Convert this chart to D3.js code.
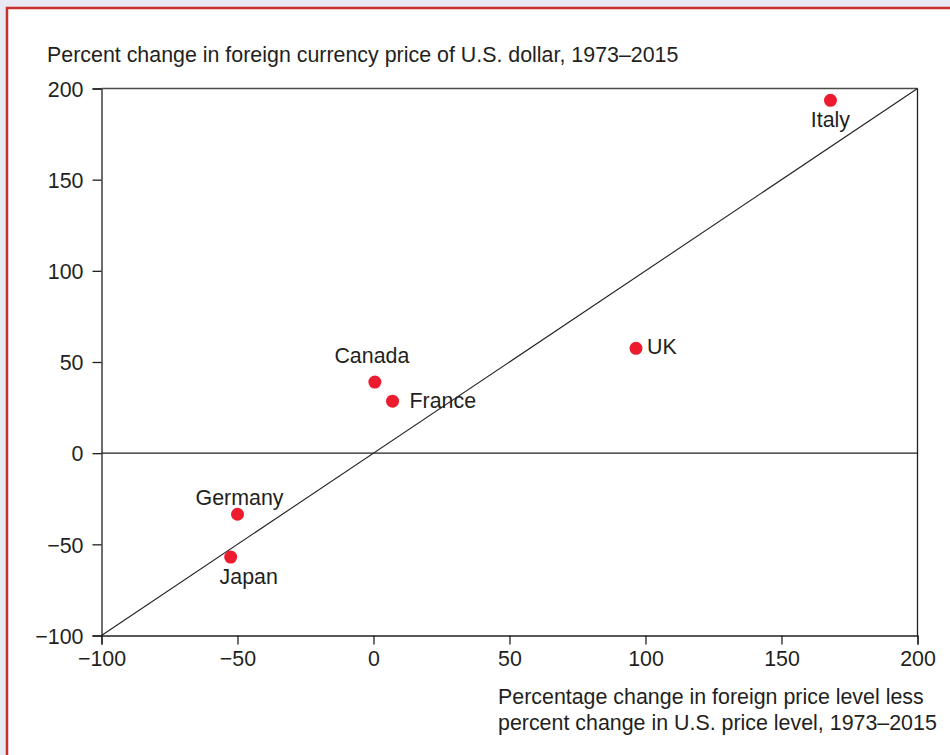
<!DOCTYPE html>
<html>
<head>
<meta charset="utf-8">
<script src="https://cdn.jsdelivr.net/npm/d3@7"></script>
<style>
  html, body { margin: 0; padding: 0; background: #e9e9f3; }
  svg { display: block; }
  text { font-family: "Liberation Sans", Arial, Helvetica, sans-serif; fill: #231f20; }
</style>
</head>
<body>
<script>
// Countries and their values (1973–2015)
const countries = ["Italy", "UK", "Canada", "France", "Germany", "Japan"];
const priceLevelDiff = [168, 96.5, 0.5, 7, -50, -52.5];   // x: foreign price level less U.S. price level, %
const currencyChange = [193.5, 57.5, 39, 28.5, -33.5, -57]; // y: foreign currency price of U.S. dollar, %
// Label placement relative to each dot
const labelAnchor = ["middle", "start", "middle", "start", "middle", "middle"];
const labelDx = [0, 11, -3, 17, 2, 18];
const labelDy = [27, 6, -19, 7, -9, 27];

const xTicks = [-100, -50, 0, 50, 100, 150, 200];
const yTicks = [-100, -50, 0, 50, 100, 150, 200];
const yTitle = "Percent change in foreign currency price of U.S. dollar, 1973–2015";
const xTitle = ["Percentage change in foreign price level less", "percent change in U.S. price level, 1973–2015"];

const W = 950, H = 755;
const svg = d3.select("body").append("svg").attr("width", W).attr("height", H);

// Panel with red frame
svg.append("rect").attr("x", 0).attr("y", 0).attr("width", W).attr("height", H).attr("fill", "#e9e9f3");
svg.append("rect").attr("x", 7).attr("y", 8).attr("width", W + 10).attr("height", H + 10)
  .attr("fill", "#ffffff").attr("stroke", "#c9302c").attr("stroke-width", 2.5);

const x = d3.scaleLinear().domain([-100, 200]).range([101.5, 917.5]);
const y = d3.scaleLinear().domain([-100, 200]).range([635.5, 88.5]);

const fs = 21.4;
const fmt = d => d < 0 ? "\u2212" + Math.abs(d) : d;

// Axes
const xAxis = svg.append("g").attr("transform", `translate(0,${y(-100)})`)
  .call(d3.axisBottom(x).tickValues(xTicks).tickSize(9).tickPadding(6).tickFormat(fmt));
const yAxis = svg.append("g").attr("transform", `translate(${x(-100)},0)`)
  .call(d3.axisLeft(y).tickValues(yTicks).tickSize(9).tickPadding(9).tickFormat(fmt));
[xAxis, yAxis].forEach(g => {
  g.select(".domain").attr("stroke", "#231f20").attr("stroke-width", 1.3);
  g.selectAll(".tick line").attr("stroke", "#231f20").attr("stroke-width", 1.3);
  g.selectAll(".tick text").attr("font-size", fs).attr("fill", "#231f20")
    .attr("font-family", "Liberation Sans, Arial, sans-serif");
});
yAxis.selectAll(".tick text").attr("dy", "0.36em");

// Top and right frame lines of the plot
svg.append("line").attr("x1", x(-100)).attr("x2", x(200)).attr("y1", y(200)).attr("y2", y(200))
  .attr("stroke", "#4a4a4a").attr("stroke-width", 1.3);
svg.append("line").attr("x1", x(200)).attr("x2", x(200)).attr("y1", y(200)).attr("y2", y(-100))
  .attr("stroke", "#231f20").attr("stroke-width", 1.3);

// Zero line and 45-degree line
svg.append("line").attr("x1", x(-100)).attr("x2", x(200)).attr("y1", y(0)).attr("y2", y(0))
  .attr("stroke", "#231f20").attr("stroke-width", 1.1);
svg.append("line").attr("x1", x(-100)).attr("x2", x(200)).attr("y1", y(-100)).attr("y2", y(200))
  .attr("stroke", "#231f20").attr("stroke-width", 1.1);

// Axis titles
svg.append("text").attr("x", 47).attr("y", 62).attr("font-size", fs).text(yTitle);
svg.append("text").attr("x", 498).attr("font-size", fs)
  .selectAll("tspan").data(xTitle).join("tspan")
  .attr("x", 498).attr("y", (d, i) => 704 + i * 26).text(d => d);

// Points
const data = countries.map((c, i) => ({ c, x: priceLevelDiff[i], y: currencyChange[i], i }));
svg.append("g").selectAll("circle").data(data).join("circle")
  .attr("cx", d => x(d.x)).attr("cy", d => y(d.y)).attr("r", 6.5).attr("fill", "#ec1c2e");

svg.append("g").selectAll("text").data(data).join("text")
  .attr("x", d => x(d.x) + labelDx[d.i]).attr("y", d => y(d.y) + labelDy[d.i])
  .attr("text-anchor", d => labelAnchor[d.i]).attr("font-size", fs)
  .text(d => d.c);
</script>
</body>
</html>
